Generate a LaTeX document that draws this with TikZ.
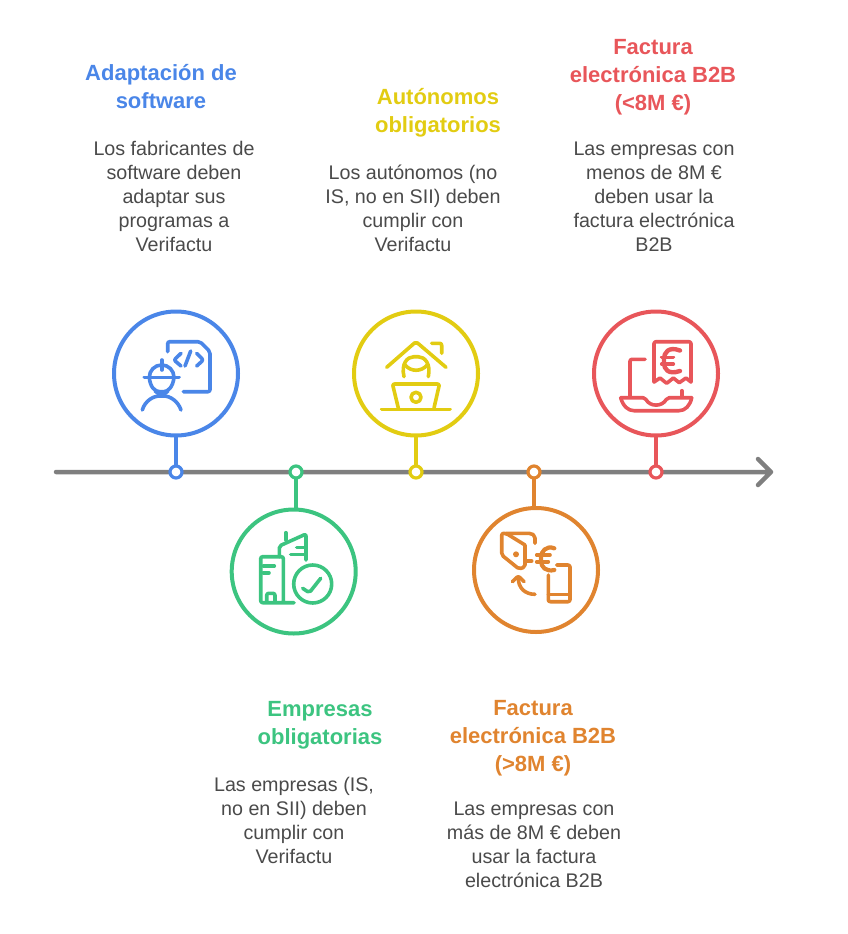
\documentclass[tikz,border=0pt]{standalone}
\usepackage{xcolor}
\usepackage{fontspec}
\setmainfont{Liberation Sans}

\definecolor{swblue}{HTML}{4A86E8}
\definecolor{autyellow}{HTML}{E2CC12}
\definecolor{b2bred}{HTML}{E8565A}
\definecolor{empgreen}{HTML}{3CC480}
\definecolor{b2borange}{HTML}{E0842F}
\definecolor{axisgray}{HTML}{7F7F7F}
\definecolor{bodygray}{HTML}{4A4A4A}

\tikzset{
  ring/.style={circle, draw=#1, line width=4pt, minimum size=124pt, inner sep=0pt, outer sep=0pt},
  tick/.style={circle, draw=#1, fill=white, line width=3.2pt, minimum size=12pt, inner sep=0pt, outer sep=0pt},
  stem/.style={draw=#1, line width=4pt},
  glyph/.style={draw=#1, line width=3.6pt, line cap=round, line join=round, rounded corners=2pt},
  heading/.style={text=#1, font=\fontsize{22}{28}\selectfont\bfseries, align=center},
  body/.style={text=bodygray, font=\fontsize{19.7}{24}\selectfont, align=center}
}

\begin{document}
\begin{tikzpicture}[x=1pt, y=-1pt]
\useasboundingbox (0,0) rectangle (848,934);

\coordinate (axisstart) at (56,472);
\coordinate (axisend) at (771,472);
\coordinate (tipup) at (758,459);
\coordinate (tipdown) at (758,485);
\draw[axisgray, line width=4.5pt, line cap=round, line join=round]
  (axisstart) -- (axisend) (tipup) -- (axisend) -- (tipdown);

% rings and ticks
\node[ring=swblue] (ringblue) at (176,373.5) {};
\node[ring=autyellow] (ringyellow) at (416,373.5) {};
\node[ring=b2bred] (ringred) at (656,373.5) {};
\node[ring=empgreen] (ringgreen) at (293.7,571.5) {};
\node[ring=b2borange] (ringorange) at (536,570) {};

\node[tick=swblue] (tickblue) at (176,472) {};
\node[tick=empgreen] (tickgreen) at (296,472) {};
\node[tick=autyellow] (tickyellow) at (416,472) {};
\node[tick=b2borange] (tickorange) at (534,472) {};
\node[tick=b2bred] (tickred) at (656,472) {};

\draw[stem=swblue] (ringblue) -- (tickblue);
\draw[stem=autyellow] (ringyellow) -- (tickyellow);
\draw[stem=b2bred] (ringred) -- (tickred);
\draw[stem=empgreen] (tickgreen) -- (tickgreen |- ringgreen.north);
\draw[stem=b2borange] (tickorange) -- (tickorange |- ringorange.north);

% software icon
\draw[glyph=swblue] (167.7,351.7) -- (167.7,341.7) -- (200,341.7) -- (210,351.7) -- (210,391.7) -- (183.3,391.7);
\draw[glyph=swblue] (181,353.3) -- (174,360) -- (181,366);
\draw[glyph=swblue] (190.7,351) -- (185,366);
\draw[glyph=swblue] (196.7,353.3) -- (203.3,360) -- (196.7,366);
\draw[glyph=swblue] (144.3,377.3) -- (179,377.3);
\draw[glyph=swblue] (149.3,377.3) arc[start angle=180, end angle=360, radius=12.35];
\draw[glyph=swblue] (161.7,360) -- (161.7,370);
\draw[glyph=swblue] (149.3,377.3) .. controls (150,387) and (155,391.7) .. (161.7,391.7) .. controls (168,391.7) and (173,387) .. (174,377.3);
\draw[glyph=swblue] (142.3,410) .. controls (145,401) and (153,396) .. (161.7,396) .. controls (170,396) and (178,401) .. (181,410);
\draw[glyph=swblue] (155,391) -- (161.7,396) -- (168,391);

% autonomos icon
\draw[glyph=autyellow] (386.7,367.3) -- (416,341.7) -- (446,367.3);
\draw[glyph=autyellow] (431.7,343.3) -- (441.7,343.3) -- (441.7,353.3);
\draw[glyph=autyellow] (404,376.7) .. controls (401,364) and (407,356.7) .. (416,356.7) .. controls (425,356.7) and (431,364) .. (428.3,376.7);
\draw[glyph=autyellow] (405,365) .. controls (411,372) and (421,372) .. (427.3,365);
\draw[glyph=autyellow] (381.7,409.3) -- (450,409.3);
\draw[glyph=autyellow] (398.3,408) -- (392.5,384) -- (439.5,384) -- (434,408);
\draw[glyph=autyellow] (416,397.3) circle[radius=5];

% b2b small icon
\draw[glyph=b2bred] (654,382) -- (654,341.7) -- (691,341.7) -- (691,382);
\draw[glyph=b2bred, rounded corners=0pt] (654,382) -- (660,378) -- (666.7,383.3) -- (673.3,378) -- (679.3,382.7) -- (686,378) -- (691,382);
\draw[glyph=b2bred, line width=4.4pt] (680,350.5) .. controls (668,346) and (664,353) .. (664,361) .. controls (664,369) and (668,375) .. (680,371);
\draw[glyph=b2bred] (661.7,357.3) -- (673.3,357.3) (661.7,364) -- (673.3,364);
\draw[glyph=b2bred] (645,359.3) -- (630,359.3) -- (630,397);
\draw[glyph=b2bred] (681.7,390.7) -- (681.7,397.3);
\draw[glyph=b2bred] (620.7,397.7) -- (645,397.7) .. controls (650,407) and (662,407) .. (667.3,397.7) -- (691.7,397.7);
\draw[glyph=b2bred] (620.7,397.7) .. controls (623,406) and (628,410.7) .. (636,410.7) -- (677,410.7) .. controls (685,410.7) and (690,406) .. (691.7,397.7);

% empresas icon
\draw[glyph=empgreen] (294,602.7) -- (260.7,602.7) -- (260.7,556.7) -- (283.3,556.7) -- (283.3,602);
\draw[glyph=empgreen] (279.3,556.7) -- (279.3,546) -- (306,534) -- (306,560);
\draw[glyph=empgreen] (285.7,532.7) -- (285.7,540);
\draw[glyph=empgreen] (296.7,547.3) -- (306,547.3) (290.7,554.3) -- (306,554.3);
\draw[glyph=empgreen] (263.3,566) -- (274.3,566) (263.3,572.7) -- (269,572.7);
\draw[glyph=empgreen] (266.7,601.7) -- (266.7,593.3) -- (275,593.3) -- (275,601.7);
\draw[glyph=empgreen] (312.7,584) circle[radius=19];
\draw[glyph=empgreen] (302.7,588.3) -- (309.3,592.7) -- (320.7,578.3);

% b2b large icon
\draw[glyph=b2borange] (525,545) -- (506,533.3) -- (501.7,533.3) -- (501.7,555) -- (519,569) -- (525,567) -- (525,545);
\draw[glyph=b2borange] (506,533.3) -- (531,533.3) -- (535,536) -- (535,543.3);
\fill[b2borange] (516,554.3) circle[radius=3];
\draw[glyph=b2borange] (525,561) -- (531.7,561);
\draw[glyph=b2borange, line width=4.2pt] (554.3,548.3) .. controls (546,545) and (541,552) .. (541,559) .. controls (541,567) and (546,572) .. (554.3,570);
\draw[glyph=b2borange] (536.7,555) -- (550,555) (536.7,561.7) -- (548.3,561.7);
\draw[glyph=b2borange] (556.7,565) -- (570,565) -- (570,601.7) -- (548.3,601.7) -- (548.3,575);
\draw[glyph=b2borange] (548.3,594.3) -- (570,594.3);
\draw[glyph=b2borange] (535,594.3) .. controls (525,594.3) and (518.3,588) .. (518.3,578);
\draw[glyph=b2borange] (512.3,581.7) -- (518.3,576) -- (524,581.7);

% texts
\node[heading=swblue] (headblue) at (161,86.5) {Adaptación de\\software};
\node[body] (textblue) at (174,196.5) {Los fabricantes de\\software deben\\adaptar sus\\programas a\\Verifactu};
\node[heading=autyellow] (headyellow) at (438,112.5) {Autónomos\\obligatorios};
\node[body] (textyellow) at (413,208.5) {Los autónomos (no\\IS, no en SII) deben\\cumplir con\\Verifactu};
\node[heading=b2bred] (headred) at (653,76.8) {Factura\\electrónica B2B\\(<8M €)};
\node[body] (textred) at (654,196.5) {Las empresas con\\menos de 8M €\\deben usar la\\factura electrónica\\B2B};
\node[heading=empgreen] (headgreen) at (320,724.8) {Empresas\\obligatorias};
\node[body] (textgreen) at (294,820.5) {Las empresas (IS,\\no en SII) deben\\cumplir con\\Verifactu};
\node[heading=b2borange] (headorange) at (533,737.8) {Factura\\electrónica B2B\\(>8M €)};
\node[body] (textorange) at (534,844.5) {Las empresas con\\más de 8M € deben\\usar la factura\\electrónica B2B};

\end{tikzpicture}
\end{document}
